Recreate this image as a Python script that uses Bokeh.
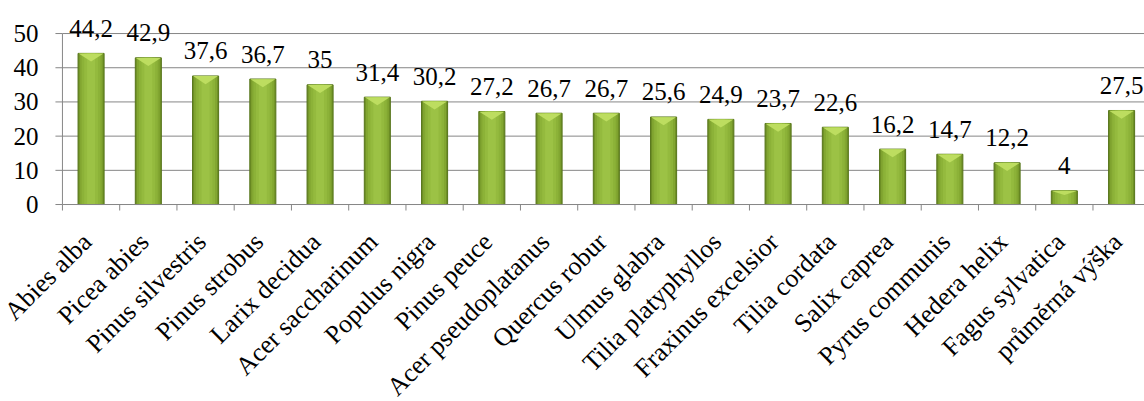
import math
from bokeh.plotting import figure
from bokeh.models import Range1d, ColumnDataSource
from bokeh.core.properties import value
from bokeh.embed import file_html
from bokeh.resources import INLINE

# Tree species and their heights (m)
species = ["Abies alba", "Picea abies", "Pinus silvestris", "Pinus strobus",
           "Larix decidua", "Acer saccharinum", "Populus nigra", "Pinus peuce",
           "Acer pseudoplatanus", "Quercus robur", "Ulmus glabra",
           "Tilia platyphyllos", "Fraxinus excelsior", "Tilia cordata",
           "Salix caprea", "Pyrus communis", "Hedera helix", "Fagus sylvatica",
           "průměrná výška"]
heights = [44.2, 42.9, 37.6, 36.7, 35, 31.4, 30.2, 27.2, 26.7, 26.7, 25.6,
           24.9, 23.7, 22.6, 16.2, 14.7, 12.2, 4, 27.5]
y_ticks = [0, 10, 20, 30, 40, 50]
y_tick_labels = ["0", "10", "20", "30", "40", "50"]

FONT = "Liberation Serif"
AXIS_GRAY = "#868686"
n = len(species)
centers = [i + 0.5 for i in range(n)]
labels = [f"{h:g}".replace(".", ",") for h in heights]

# the frame covers the whole canvas; axes are drawn as glyphs so that the
# slanted category names and the tick labels are never clipped
p = figure(width=1144, height=401, output_backend="svg", toolbar_location=None,
           x_range=Range1d(-1.082, 18.9), y_range=Range1d(-57.6, 58.2),
           x_axis_location=None, y_axis_location=None,
           min_border_left=0, min_border_right=0, min_border_top=5,
           min_border_bottom=0)
p.outline_line_color = None
p.background_fill_color = "white"
p.xgrid.grid_line_color = None
p.ygrid.grid_line_color = None

# horizontal gridlines
grid_y = y_ticks[1:]
p.segment(x0=[0] * len(grid_y), y0=grid_y, x1=[n] * len(grid_y), y1=grid_y,
          line_color=AXIS_GRAY, line_width=1)

W = 0.455
src = ColumnDataSource(dict(x=centers, top=heights, label=labels, name=species))

# cylinder-like shading built from nested bars
p.vbar(x="x", top="top", bottom=0, width=W, source=src,
       fill_color="#6f9026", line_color="#56741a", line_width=1)
for w, c in [(0.40, "#82a631"), (0.33, "#8cb238"), (0.24, "#94ba3e"), (0.14, "#9cc245")]:
    p.vbar(x="x", top="top", bottom=0, width=w, source=src,
           fill_color=c, line_color=None)

# bevel at the top of each bar
tri_xs, tri_ys = [], []
for x, h in zip(centers, heights):
    d = min(2.4, h * 0.3)
    tri_xs.append([x - W / 2 + 0.01, x + W / 2 - 0.01, x])
    tri_ys.append([h - 0.05, h - 0.05, h - d])
p.patches(tri_xs, tri_ys, fill_color="#bddd60", line_color=None)

# axis lines: y from 0 to 50, x along zero
p.segment(x0=[0], y0=[0], x1=[0], y1=[y_ticks[-1]], line_color=AXIS_GRAY, line_width=1)
p.segment(x0=[0], y0=[0], x1=[n], y1=[0], line_color=AXIS_GRAY, line_width=1)
# category boundary ticks
p.ray(x=list(range(n + 1)), y=[0] * (n + 1), length=6, length_units="screen",
      angle=-math.pi / 2, line_color=AXIS_GRAY, line_width=1)
# value ticks and their labels
p.ray(x=[0] * len(y_ticks), y=y_ticks, length=7, length_units="screen",
      angle=math.pi, line_color=AXIS_GRAY, line_width=1)
p.text(x=[0] * len(y_ticks), y=y_ticks, text=y_tick_labels, text_align="right",
       text_baseline="middle", x_offset=-24, text_font=value(FONT),
       text_font_size="25px", text_color="black")

# value labels
p.text(x="x", y="top", text="label", source=src, text_align="center",
       text_baseline="alphabetic", y_offset=-25, text_font=value(FONT),
       text_font_size="25px", text_color="black")

# category names
p.text(x="x", y=0, text="name", source=src, angle=math.pi / 4,
       text_align="right", text_baseline="middle", x_offset=-4, y_offset=33,
       text_font=value(FONT), text_font_size="26px", text_color="black")

open("out.html", "w").write(file_html(p, INLINE))
